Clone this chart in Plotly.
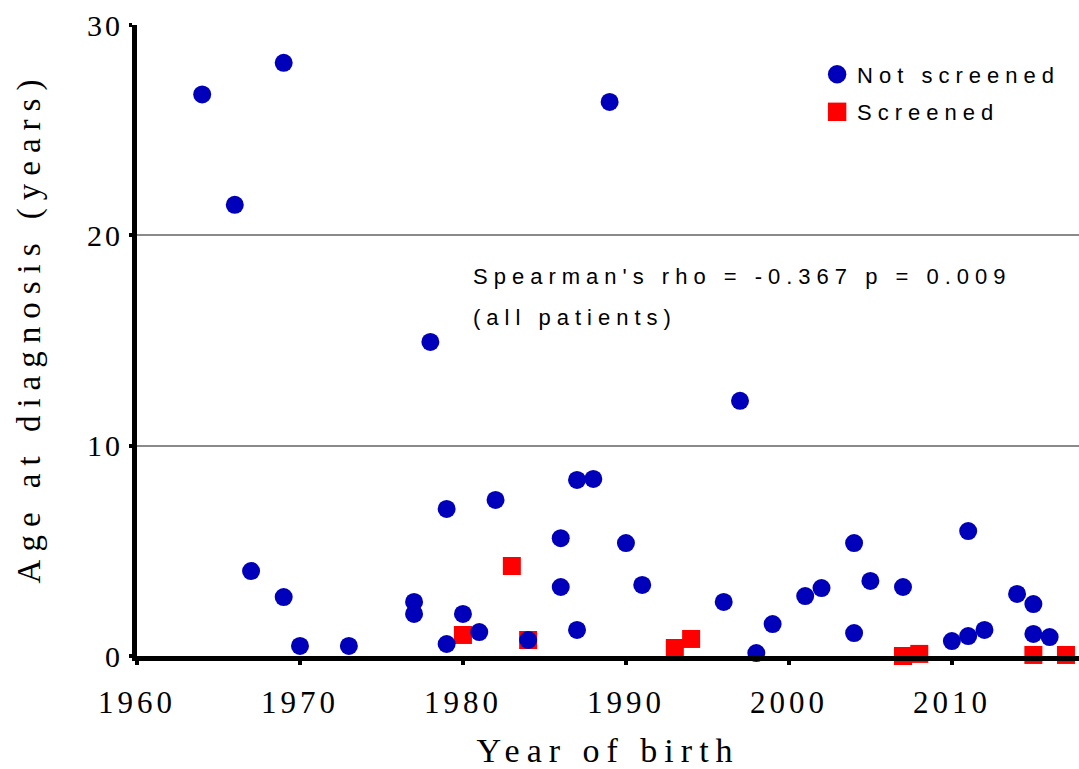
import plotly.graph_objects as go

# Patients not screened: year of birth and age at diagnosis (years)
ns_year = [1964, 1966, 1969, 1967, 1969, 1970, 1973, 1978, 1977, 1977,
           1979, 1979, 1980, 1981, 1982, 1984, 1986, 1986, 1987, 1988,
           1987, 1989, 1990, 1991, 1996, 1997, 1998, 1999, 2001, 2002,
           2004, 2004, 2005, 2007, 2010, 2011, 2011, 2012, 2014, 2015,
           2015, 2016]
ns_age = [26.7, 21.45, 28.2, 4.04, 2.8, 0.48, 0.48, 14.93, 2.57, 2.0,
          6.99, 0.57, 2.0, 1.14, 7.42, 0.76, 5.6, 3.28, 8.37, 8.42,
          1.24, 26.34, 5.37, 3.38, 2.57, 12.13, 0.14, 1.52, 2.85, 3.23,
          5.37, 1.09, 3.57, 3.28, 0.71, 0.95, 5.94, 1.24, 2.95, 2.47,
          1.05, 0.9]

# Patients found through screening
s_year = [1980, 1983, 1984, 1993, 1994, 2007, 2008, 2015, 2017]
s_age = [1.0, 4.28, 0.76, 0.38, 0.81, 0.0, 0.1, 0.05, 0.05]

x_ticks = [1960, 1970, 1980, 1990, 2000, 2010]
y_ticks = [0, 10, 20, 30]

SERIF = "Liberation Serif, Times New Roman, serif"
SANS = "Liberation Sans, Arial, sans-serif"

fig = go.Figure()
fig.add_trace(go.Scatter(
    x=s_year, y=s_age, mode="markers", name="Screened",
    marker=dict(symbol="square", size=18, color="#FF0000"),
    cliponaxis=False, legendrank=2, legendgroup="s",
))
fig.add_trace(go.Scatter(
    x=ns_year, y=ns_age, mode="markers", name="Not screened",
    marker=dict(symbol="circle", size=18, color="#0000BB"),
    cliponaxis=False, legendrank=1, legendgroup="ns",
))

fig.add_annotation(
    x=1980.5, y=18.02, xref="x", yref="y", xanchor="left", yanchor="middle",
    align="left", showarrow=False,
    text="Spearman's rho = -0.367 p = 0.009",
    font=dict(family=SANS, size=22, color="black"),
)
fig.add_annotation(
    x=1980.5, y=16.07, xref="x", yref="y", xanchor="left", yanchor="middle",
    align="left", showarrow=False,
    text="(all patients)",
    font=dict(family=SANS, size=22, color="black"),
)

fig.update_layout(
    width=1079, height=769,
    margin=dict(l=137, r=0, t=25, b=113),
    paper_bgcolor="white", plot_bgcolor="white",
    showlegend=True,
    legend=dict(
        x=0.722, y=0.955, xanchor="left", yanchor="top",
        bgcolor="rgba(0,0,0,0)", traceorder="grouped", tracegroupgap=6,
        font=dict(family=SANS, size=22, color="black"),
    ),
    xaxis=dict(
        range=[1960, 2017.8], tickvals=x_ticks, ticktext=[str(v) for v in x_ticks],
        showline=True, linecolor="black", linewidth=5,
        ticks="outside", ticklen=4, tickwidth=4, tickcolor="black",
        showgrid=False, zeroline=False, automargin=False,
        tickfont=dict(family=SERIF, size=31, color="black"),
        ticklabelstandoff=11,
        title=dict(text="Year of birth", font=dict(family=SERIF, size=34, color="black"), standoff=28),
    ),
    yaxis=dict(
        range=[0, 30], tickvals=y_ticks, ticktext=[str(v) for v in y_ticks],
        showline=True, linecolor="black", linewidth=5,
        ticks="outside", ticklen=3, tickwidth=4, tickcolor="black",
        showgrid=True, gridcolor="#8A8A8A", gridwidth=2, zeroline=False,
        automargin=False,
        tickfont=dict(family=SERIF, size=30, color="black"),
        ticklabelstandoff=0,
        title=dict(text="Age at diagnosis (years)", font=dict(family=SERIF, size=33, color="black"), standoff=44),
    ),
)

# Wide letter spacing on all chart text, unclipped legend, larger legend symbols
spacing_css = """
var st = document.createElement('style');
st.textContent = '.xtick text{letter-spacing:4px} .ytick text{letter-spacing:3px} ' +
  '.xtitle{letter-spacing:7px} .ytitle{letter-spacing:8px; translate:0 -13px} ' +
  '.legendtext{letter-spacing:6px} .annotation-text{letter-spacing:6px} ' +
  '.legend .scrollbox{clip-path:none} ' +
  '.legendpoints path.scatterpts{scale:1.15; translate:-3px 0}';
document.head.appendChild(st);
"""

fig.write_html("out.html", post_script=spacing_css)
